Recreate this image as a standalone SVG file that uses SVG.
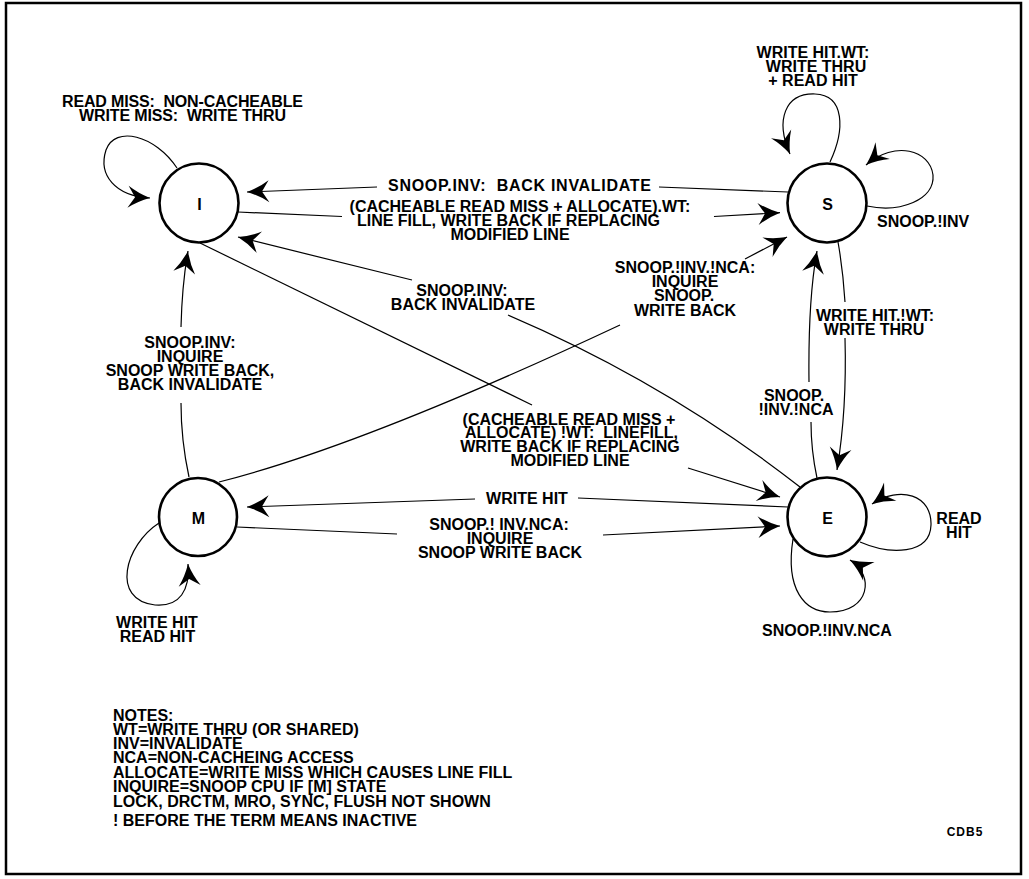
<svg xmlns="http://www.w3.org/2000/svg" width="1029" height="879" viewBox="0 0 1029 879">
<style>
.lbl{font-family:"Liberation Sans",Arial,Helvetica,sans-serif;font-weight:bold;font-size:16px;letter-spacing:0px;fill:#000}
.c{text-anchor:middle}
.node circle{fill:#fff;stroke:#000;stroke-width:2.6}
.edge{fill:none;stroke:#000;stroke-width:1.2}
.arr{marker-end:url(#ah)}
</style>
<defs>
<marker id="ah" markerUnits="userSpaceOnUse" markerWidth="30" markerHeight="30" viewBox="-25 -15 30 30" refX="0" refY="0" orient="auto" overflow="visible">
<path d="M0,0 Q-12,-4 -22,-11 L-15,0 L-22,11 Q-12,4 0,0 Z" fill="#000"/>
</marker>
</defs>
<rect x="0" y="0" width="1029" height="879" fill="#fff"/>
<rect x="6" y="3" width="1015" height="871" fill="none" stroke="#000" stroke-width="2.5"/>

<g id="connectors">
<path class="edge arr" d="M177,168 C155,135 115,125 106,150 C98,175 115,196 150,198"/>
<path class="edge" d="M788,192 L659,187"/>
<path class="edge arr" d="M377,187 L247,192"/>
<path class="edge" d="M238,212 L342,216.5"/>
<path class="edge arr" d="M714,216.5 L780,212.7"/>
<path class="edge" d="M800,487 Q667,383 508,315"/>
<path class="edge arr" d="M412,280 L238,237"/>
<path class="edge" d="M200,243 L532,405"/>
<path class="edge arr" d="M688,468 L780,497"/>
<path class="edge" d="M219,482 Q362,446 620,325"/>
<path class="edge arr" d="M745,259 L787,237"/>
<path class="edge" d="M189,477 Q181,440 181,403"/>
<path class="edge arr" d="M181,327 Q182,285 188,251"/>
<path class="edge" d="M788,507 L578,498"/>
<path class="edge arr" d="M475,499 L247,507"/>
<path class="edge" d="M237,527 L397,534"/>
<path class="edge arr" d="M603,535 L780,526"/>
<path class="edge" d="M838,242 Q843,270 845,302"/>
<path class="edge arr" d="M845,338 Q847,410 837,470"/>
<path class="edge" d="M817,478 Q811,450 811,422"/>
<path class="edge arr" d="M809,382 Q808,300 817,251"/>
<path class="edge arr" d="M830,162 C845,130 845,95 815,94 C785,93 775,120 790,154"/>
<path class="edge arr" d="M867,206 C900,213 935,200 933,175 C930,150 895,140 866,165"/>
<path class="edge arr" d="M159,523 C125,545 110,600 155,605 C180,607 190,590 188,564"/>
<path class="edge arr" d="M860,542 C890,555 930,555 931,525 C932,495 900,485 872,504"/>
<path class="edge arr" d="M793,539 C785,590 805,612 830,612 C870,612 875,575 850,560"/>
</g>

<g id="edge-labels">
<text class="lbl c" x="182.5" y="106.5" xml:space="preserve" textLength="241" lengthAdjust="spacing">READ MISS:  NON-CACHEABLE</text>
<text class="lbl c" x="182.5" y="120.5" xml:space="preserve" textLength="207" lengthAdjust="spacing">WRITE MISS:  WRITE THRU</text>

<text class="lbl c" x="813" y="57.5">WRITE HIT.WT:</text>
<text class="lbl c" x="816" y="71.5">WRITE THRU</text>
<text class="lbl c" x="813" y="85.5">+ READ HIT</text>

<text class="lbl c" x="519.5" y="190.5" xml:space="preserve" textLength="263" lengthAdjust="spacing">SNOOP.INV:  BACK INVALIDATE</text>

<text class="lbl c" x="520" y="212">(CACHEABLE READ MISS + ALLOCATE).WT:</text>
<text class="lbl c" x="508.5" y="225.5">LINE FILL, WRITE BACK IF REPLACING</text>
<text class="lbl c" x="510" y="239.5">MODIFIED LINE</text>

<text class="lbl" x="877" y="226.5">SNOOP.!INV</text>

<text class="lbl c" x="685" y="272.5">SNOOP.!INV.!NCA:</text>
<text class="lbl c" x="685" y="287">INQUIRE</text>
<text class="lbl c" x="684" y="301">SNOOP.</text>
<text class="lbl c" x="685" y="315.5">WRITE BACK</text>

<text class="lbl c" x="462" y="296">SNOOP.INV:</text>
<text class="lbl c" x="463" y="310">BACK INVALIDATE</text>

<text class="lbl c" x="875" y="320.5">WRITE HIT.!WT:</text>
<text class="lbl c" x="874" y="334.5">WRITE THRU</text>

<text class="lbl c" x="190" y="347.5">SNOOP.INV:</text>
<text class="lbl c" x="190" y="361.5">INQUIRE</text>
<text class="lbl c" x="190" y="376">SNOOP WRITE BACK,</text>
<text class="lbl c" x="190" y="390">BACK INVALIDATE</text>

<text class="lbl c" x="794" y="401">SNOOP.</text>
<text class="lbl c" x="796" y="415">!INV.!NCA</text>

<text class="lbl c" x="569" y="425">(CACHEABLE READ MISS +</text>
<text class="lbl c" x="571.5" y="437.5" xml:space="preserve" textLength="213" lengthAdjust="spacing">ALLOCATE) !WT:  LINEFILL,</text>
<text class="lbl c" x="570" y="451.5">WRITE BACK IF REPLACING</text>
<text class="lbl c" x="570" y="466">MODIFIED LINE</text>

<text class="lbl c" x="527" y="504">WRITE HIT</text>

<text class="lbl c" x="499" y="530">SNOOP.! INV.NCA:</text>
<text class="lbl c" x="500" y="544">INQUIRE</text>
<text class="lbl c" x="500" y="558">SNOOP WRITE BACK</text>

<text class="lbl c" x="959" y="524">READ</text>
<text class="lbl c" x="959" y="538">HIT</text>

<text class="lbl c" x="157" y="627.5">WRITE HIT</text>
<text class="lbl c" x="157.5" y="641.5">READ HIT</text>

<text class="lbl c" x="827" y="636">SNOOP.!INV.NCA</text>
</g>

<g id="node-I" class="node"><circle cx="199" cy="203" r="39.5"/><text class="lbl c" x="199.5" y="209.5">I</text></g>
<g id="node-S" class="node"><circle cx="827" cy="203" r="39.5"/><text class="lbl c" x="827.5" y="209.5">S</text></g>
<g id="node-M" class="node"><circle cx="198" cy="517" r="39"/><text class="lbl c" x="198.5" y="523.5">M</text></g>
<g id="node-E" class="node"><circle cx="827" cy="517" r="39.5"/><text class="lbl c" x="827.5" y="523.5">E</text></g>

<g id="notes">
<text class="lbl" x="113" y="720.5">NOTES:</text>
<text class="lbl" x="113" y="734.5">WT=WRITE THRU (OR SHARED)</text>
<text class="lbl" x="113" y="748.5">INV=INVALIDATE</text>
<text class="lbl" x="113" y="763">NCA=NON-CACHEING ACCESS</text>
<text class="lbl" x="113" y="777.5">ALLOCATE=WRITE MISS WHICH CAUSES LINE FILL</text>
<text class="lbl" x="113" y="792">INQUIRE=SNOOP CPU IF [M] STATE</text>
<text class="lbl" x="113" y="806.5">LOCK, DRCTM, MRO, SYNC, FLUSH NOT SHOWN</text>
<text class="lbl" x="113" y="826">! BEFORE THE TERM MEANS INACTIVE</text>
</g>
<text class="lbl c" x="965" y="836" style="font-size:12px;letter-spacing:1px">CDB5</text>
</svg>
